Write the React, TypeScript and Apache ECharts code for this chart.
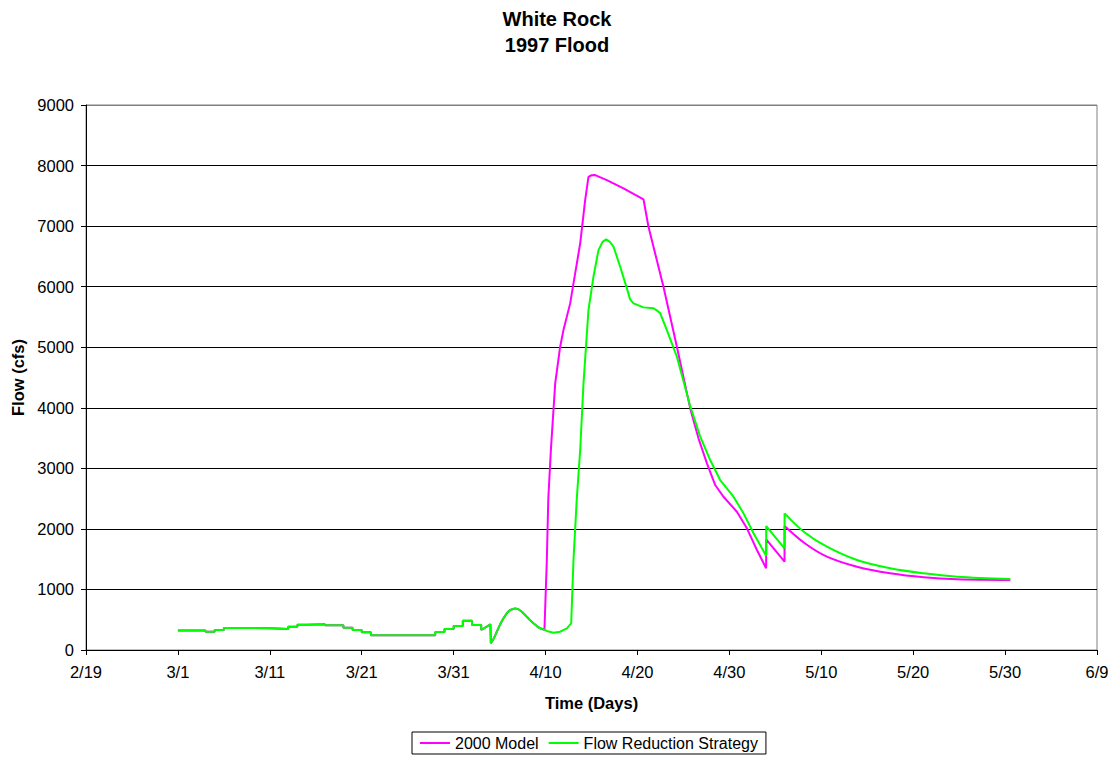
import React, { useEffect, useRef } from "react";
import * as echarts from "echarts";

// Days are counted from 2/19/1997 (day 0); 3/1 is day 10, 6/9 is day 110.
const ORIGIN = Date.UTC(1997, 1, 19);
const DAY_MS = 86400000;

const xTickDays = { min: 0, max: 110, step: 10 };
const yTicks = { min: 0, max: 9000, step: 1000 };

// Daily base flows (cfs), held constant from each start day to the next one.
const stepStartDays = [10, 13, 14, 15, 18, 20, 22, 23, 24, 26, 28, 29, 30, 31, 38, 39, 40, 41, 42, 43];
const stepFlows = [320, 300, 330, 365, 358, 347, 385, 418, 424, 408, 369, 330, 292, 242, 297, 347, 396, 484, 413, 330];

// Early April pulse shared by both runs, until the two runs part on 4/9.
const sharedPulse: [number, number][] = [
  [44.0, 424], [44.05, 110], [44.4, 200], [44.7, 302], [45.05, 420], [45.42, 523], [45.8, 610],
  [46.15, 660], [46.69, 688], [47.05, 672], [47.42, 632], [47.96, 550], [48.3, 496],
  [48.68, 441], [49.05, 395], [49.41, 358], [49.88, 335],
];

// 2000 Model hydrograph after 4/9, up to the second release on 5/6.
const modelRise: [number, number][] = [
  [50.14, 1486], [50.3, 2500], [50.58, 3300], [51.05, 4403], [51.59, 5008], [51.95, 5283],
  [52.68, 5724], [53.04, 6054], [53.77, 6715], [54.31, 7430], [54.67, 7814], [55.0, 7840],
  [55.4, 7843], [56.67, 7760], [58.48, 7622], [60.66, 7440], [61.2, 6990], [62.83, 5998],
  [64.29, 5008], [65.74, 3990], [66.64, 3495], [67.56, 3082], [68.46, 2724], [69.36, 2531],
  [70.82, 2283], [71.91, 2009], [73.0, 1651], [74.0, 1349], [74.01, 1828], [76.0, 1458],
  [76.01, 2047],
];
// 2000 Model recession after 5/6.
const modelRecession: [number, number][] = [
  [76.01, 2047], [78.2, 1762], [80.61, 1541], [83.88, 1375], [87.5, 1266], [91.13, 1200],
  [94.76, 1167], [100.57, 1156],
];

// Flow Reduction Strategy hydrograph after 4/9, up to the second release on 5/6.
const strategyRise: [number, number][] = [
  [50.14, 314], [50.86, 286], [51.59, 302], [52.32, 358], [52.79, 441], [53.04, 1486],
  [53.4, 2500], [53.77, 3302], [54.13, 4403], [54.67, 5614], [55.21, 6163], [55.76, 6604],
  [56.2, 6740], [56.6, 6781], [57.0, 6740], [57.4, 6659], [58.12, 6329], [58.85, 5972],
  [59.2, 5790], [59.57, 5724], [60.66, 5658], [61.75, 5642], [62.1, 5610], [62.48, 5559],
  [63.2, 5283], [64.29, 4843], [65.74, 4030], [66.83, 3522], [67.91, 3137], [69.0, 2807],
  [70.45, 2531], [71.54, 2257], [72.63, 1927], [74.0, 1555], [74.01, 2047], [76.0, 1679],
  [76.01, 2257],
];
// Flow Reduction Strategy recession after 5/6.
const strategyRecession: [number, number][] = [
  [76.01, 2257], [78.2, 1940], [80.61, 1706], [83.88, 1486], [87.5, 1349], [91.13, 1266],
  [94.76, 1211], [100.57, 1172],
];

const seriesNames = ["2000 Model", "Flow Reduction Strategy"];
const seriesColors = ["#FF00FF", "#00FF00"];

const FONT = 'Arial, "Liberation Sans", sans-serif';

function baseFlowPoints(): [number, number][] {
  const pts: [number, number][] = [];
  for (let i = 0; i < stepStartDays.length; i++) {
    pts.push([stepStartDays[i], stepFlows[i]]);
    if (i + 1 < stepStartDays.length) pts.push([stepStartDays[i + 1], stepFlows[i]]);
  }
  return pts;
}

function dayLabel(v: number): string {
  const d = new Date(ORIGIN + v * DAY_MS);
  return `${d.getUTCMonth() + 1}/${d.getUTCDate()}`;
}

function lineSeries(name: string, color: string, data: [number, number][], smooth: number, z: number) {
  return {
    name,
    type: "line",
    data,
    smooth,
    symbol: "none",
    lineStyle: { color, width: 2 },
    itemStyle: { color },
    z,
  };
}

export default function App() {
  const ref = useRef<HTMLDivElement>(null);

  useEffect(() => {
    if (!ref.current) return;
    const chart = echarts.init(ref.current, undefined, { renderer: "svg" });
    const shared = [...baseFlowPoints(), ...sharedPulse];
    const gridColors = Array.from({ length: 10 }, (_, i) => (i === 9 ? "#808080" : "#000000"));

    chart.setOption({
      animation: false,
      backgroundColor: "#ffffff",
      title: {
        text: "White Rock\n1997 Flood",
        left: "center",
        top: 1,
        textStyle: { fontFamily: FONT, fontSize: 20, fontWeight: "bold", color: "#000", lineHeight: 26 },
      },
      grid: {
        left: 86,
        right: 17,
        top: 105,
        bottom: 107,
        show: true,
        borderColor: "#808080",
        borderWidth: 1,
        backgroundColor: "transparent",
      },
      legend: {
        data: seriesNames.map((n) => ({ name: n, icon: "rect" })),
        left: 412,
        top: 732,
        padding: [3, 8],
        itemGap: 10,
        itemWidth: 30,
        itemHeight: 2,
        borderColor: "#000",
        borderWidth: 1,
        borderRadius: 0,
        textStyle: { fontFamily: FONT, fontSize: 16, color: "#000" },
      },
      xAxis: {
        type: "value",
        min: xTickDays.min,
        max: xTickDays.max,
        interval: xTickDays.step,
        name: "Time (Days)",
        nameLocation: "middle",
        nameGap: 44,
        nameTextStyle: { fontFamily: FONT, fontSize: 16.5, fontWeight: "bold", color: "#000" },
        axisLine: { lineStyle: { color: "#000", width: 1 } },
        axisTick: { length: 5, lineStyle: { color: "#000" } },
        axisLabel: { formatter: dayLabel, margin: 13, fontFamily: FONT, fontSize: 16.5, color: "#000" },
        splitLine: { show: false },
      },
      yAxis: {
        type: "value",
        min: yTicks.min,
        max: yTicks.max,
        interval: yTicks.step,
        name: "Flow (cfs)",
        nameLocation: "middle",
        nameGap: 54,
        nameTextStyle: { fontFamily: FONT, fontSize: 16.5, fontWeight: "bold", color: "#000" },
        axisLine: { show: true, lineStyle: { color: "#000", width: 1 } },
        axisTick: { show: true, length: 5, lineStyle: { color: "#000" } },
        axisLabel: {
          formatter: (v: number) => String(v),
          margin: 12,
          fontFamily: FONT,
          fontSize: 16.5,
          color: "#000",
        },
        splitLine: { show: true, lineStyle: { color: gridColors, width: 1 } },
      },
      series: [
        lineSeries(seriesNames[0], seriesColors[0], [...shared, ...modelRise], 0, 2),
        lineSeries(seriesNames[0], seriesColors[0], modelRecession, 0.35, 2),
        lineSeries(seriesNames[1], seriesColors[1], [...shared, ...strategyRise], 0, 3),
        lineSeries(seriesNames[1], seriesColors[1], strategyRecession, 0.35, 3),
      ],
    });

    return () => chart.dispose();
  }, []);

  return (
    <div
      ref={ref}
      style={{ position: "fixed", left: 0, top: 0, width: 1114, height: 757, background: "#fff" }}
    />
  );
}
